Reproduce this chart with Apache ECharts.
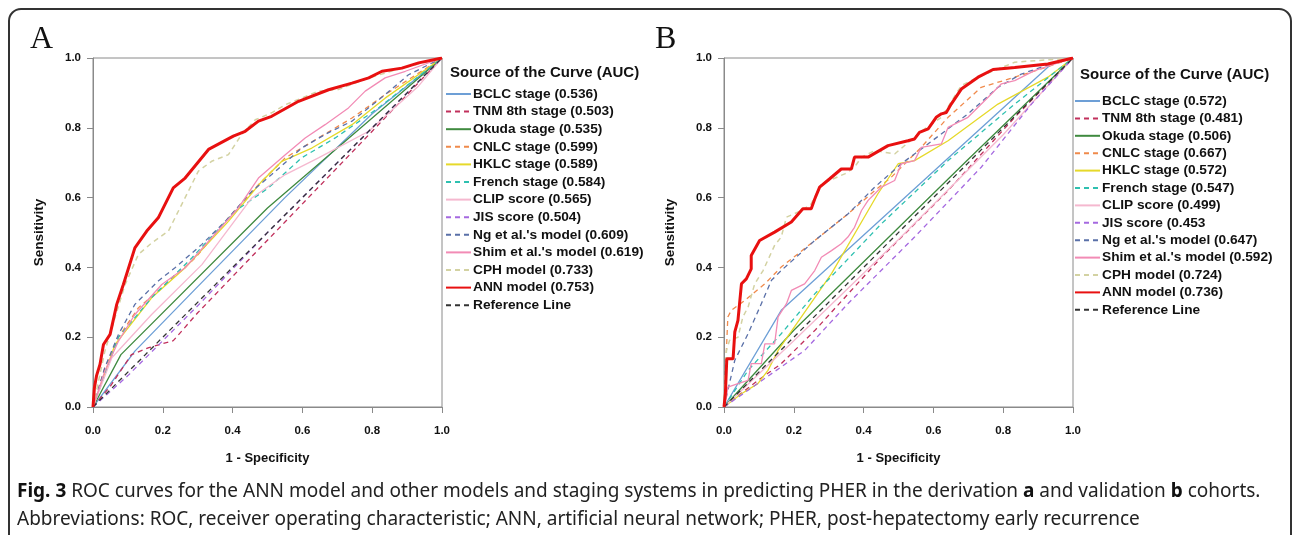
<!DOCTYPE html>
<html><head><meta charset="utf-8">
<script src="https://cdn.jsdelivr.net/npm/echarts@6/dist/echarts.min.js"></script>
<style>html,body{margin:0;padding:0;background:#fff;}#c{width:1292px;height:535px;}</style>
</head><body><div id="c"></div>
<script>
// ---------- legend labels ----------
const legendA = ["BCLC stage (0.536)","TNM 8th stage (0.503)","Okuda stage (0.535)","CNLC stage (0.599)","HKLC stage (0.589)","French stage (0.584)","CLIP score (0.565)","JIS score (0.504)","Ng et al.'s model (0.609)","Shim et al.'s model (0.619)","CPH model (0.733)","ANN model (0.753)","Reference Line"];
const legendB = ["BCLC stage (0.572)","TNM 8th stage (0.481)","Okuda stage (0.506)","CNLC stage (0.667)","HKLC stage (0.572)","French stage (0.547)","CLIP score (0.499)","JIS score (0.453","Ng et al.'s model (0.647)","Shim et al.'s model (0.592)","CPH model (0.724)","ANN model (0.736)","Reference Line"];
const axisTicks = [0, 0.2, 0.4, 0.6, 0.8, 1.0];

// ---------- Panel A curves [1-specificity, sensitivity] ----------
const A_BCLC = [[0,0],[0.12,0.16],[0.3,0.345],[0.55,0.6],[0.8,0.84],[1,1]];
const A_TNM = [[0,0],[0.05,0.06],[0.11,0.15],[0.16,0.17],[0.23,0.19],[0.3,0.27],[0.55,0.53],[0.8,0.79],[1,1]];
const A_Okuda = [[0,0],[0.08,0.15],[0.5,0.57],[1,1]];
const A_CNLC = [[0,0],[0.034,0.113],[0.073,0.2],[0.13,0.284],[0.207,0.351],[0.293,0.427],[0.388,0.542],[0.474,0.637],[0.551,0.714],[0.646,0.771],[0.742,0.828],[0.837,0.895],[1,1]];
const A_HKLC = [[0,0],[0.063,0.179],[0.168,0.313],[0.264,0.399],[0.388,0.532],[0.484,0.647],[0.541,0.704],[0.627,0.742],[0.742,0.809],[0.837,0.885],[1,1]];
const A_French = [[0,0],[0.073,0.2],[0.168,0.313],[0.283,0.427],[0.407,0.561],[0.503,0.628],[0.598,0.714],[0.694,0.771],[0.818,0.857],[1,1]];
const A_CLIP = [[0,0],[0.054,0.141],[0.168,0.265],[0.312,0.408],[0.455,0.599],[0.551,0.666],[0.646,0.714],[0.79,0.79],[0.933,0.92],[1,1]];
const A_JIS = [[0,0],[0.1,0.09],[0.3,0.29],[0.5,0.5],[0.8,0.8],[1,1]];
const A_Ng = [[0,0],[0.034,0.113],[0.073,0.208],[0.12,0.294],[0.187,0.361],[0.235,0.399],[0.312,0.466],[0.379,0.532],[0.455,0.618],[0.512,0.666],[0.598,0.742],[0.665,0.781],[0.742,0.819],[0.837,0.895],[0.904,0.952],[1,1]];
const A_Shim = [[0,0],[0.034,0.103],[0.073,0.189],[0.12,0.265],[0.197,0.351],[0.264,0.399],[0.34,0.485],[0.417,0.571],[0.474,0.656],[0.551,0.723],[0.608,0.771],[0.665,0.809],[0.732,0.857],[0.78,0.905],[0.837,0.943],[0.895,0.962],[1,1]];
const A_CPH = [[0,0],[0.015,0.07],[0.034,0.16],[0.063,0.256],[0.092,0.351],[0.13,0.437],[0.168,0.47],[0.216,0.504],[0.254,0.58],[0.302,0.676],[0.34,0.704],[0.388,0.723],[0.426,0.781],[0.465,0.823],[0.512,0.843],[0.551,0.866],[0.646,0.905],[0.704,0.91],[0.79,0.943],[0.885,0.971],[1,1]];
const A_ANN = [[0,0],[0.004,0.055],[0.01,0.089],[0.02,0.122],[0.03,0.179],[0.049,0.208],[0.068,0.294],[0.087,0.351],[0.12,0.456],[0.154,0.504],[0.187,0.542],[0.23,0.628],[0.264,0.656],[0.331,0.738],[0.402,0.776],[0.436,0.79],[0.474,0.819],[0.512,0.833],[0.589,0.876],[0.675,0.909],[0.742,0.928],[0.79,0.943],[0.828,0.962],[0.885,0.971],[0.933,0.986],[1,1]];
const A_Ref = [[0,0],[1,1]];

// ---------- Panel B curves ----------
const B_BCLC = [[0,0],[0.164,0.277],[0.938,0.983],[1,1]];
const B_TNM = [[0,0],[0.05,0.04],[0.097,0.076],[0.164,0.124],[0.26,0.219],[0.451,0.429],[0.642,0.62],[0.833,0.83],[1,1]];
const B_Okuda = [[0,0],[0.2,0.22],[0.7,0.71],[1,1]];
const B_CNLC = [[0,0],[0.011,0.258],[0.021,0.277],[0.059,0.305],[0.117,0.353],[0.164,0.401],[0.26,0.477],[0.355,0.553],[0.432,0.62],[0.479,0.658],[0.565,0.744],[0.642,0.83],[0.737,0.916],[0.833,0.945],[0.928,0.975],[1,1]];
const B_HKLC = [[0,0],[0.05,0.038],[0.097,0.067],[0.126,0.105],[0.155,0.162],[0.308,0.382],[0.441,0.611],[0.499,0.697],[0.546,0.706],[0.642,0.763],[0.785,0.868],[0.928,0.945],[1,1]];
const B_French = [[0,0],[0.069,0.105],[0.164,0.21],[0.26,0.324],[0.451,0.525],[0.642,0.706],[0.833,0.868],[1,1]];
const B_CLIP = [[0,0],[0.2,0.19],[0.5,0.48],[0.8,0.78],[1,1]];
const B_JIS = [[0,0],[0.069,0.048],[0.164,0.115],[0.231,0.162],[0.355,0.296],[0.546,0.487],[0.737,0.687],[0.881,0.868],[1,1]];
const B_Ng = [[0,0],[0.031,0.134],[0.069,0.21],[0.107,0.296],[0.136,0.363],[0.164,0.391],[0.26,0.477],[0.355,0.553],[0.432,0.63],[0.508,0.697],[0.585,0.754],[0.699,0.84],[0.785,0.916],[0.852,0.954],[0.928,0.98],[1,1]];
const B_Shim = [[0,0],[0.007,0.029],[0.011,0.057],[0.04,0.067],[0.069,0.076],[0.078,0.124],[0.107,0.124],[0.117,0.181],[0.145,0.181],[0.155,0.258],[0.179,0.296],[0.193,0.334],[0.231,0.353],[0.26,0.391],[0.279,0.429],[0.308,0.448],[0.336,0.468],[0.355,0.487],[0.374,0.515],[0.394,0.563],[0.413,0.592],[0.432,0.611],[0.451,0.63],[0.489,0.649],[0.508,0.697],[0.546,0.706],[0.565,0.744],[0.623,0.754],[0.642,0.801],[0.699,0.83],[0.728,0.859],[0.766,0.897],[0.795,0.926],[0.833,0.935],[0.89,0.964],[1,1]];
const B_CPH = [[0,0],[0.007,0.162],[0.016,0.191],[0.04,0.2],[0.054,0.258],[0.069,0.286],[0.088,0.353],[0.112,0.391],[0.145,0.463],[0.164,0.487],[0.179,0.544],[0.222,0.563],[0.25,0.582],[0.279,0.639],[0.346,0.668],[0.374,0.687],[0.394,0.716],[0.432,0.735],[0.489,0.725],[0.546,0.773],[0.575,0.797],[0.623,0.83],[0.68,0.921],[0.728,0.945],[0.833,0.988],[1,1]];
const B_ANN = [[0,0],[0.004,0.038],[0.008,0.138],[0.026,0.138],[0.031,0.215],[0.04,0.248],[0.05,0.353],[0.064,0.367],[0.078,0.396],[0.078,0.434],[0.102,0.477],[0.145,0.501],[0.193,0.53],[0.226,0.568],[0.25,0.568],[0.26,0.596],[0.274,0.63],[0.303,0.654],[0.336,0.682],[0.365,0.682],[0.374,0.716],[0.413,0.716],[0.47,0.749],[0.527,0.763],[0.546,0.768],[0.56,0.787],[0.585,0.797],[0.608,0.83],[0.623,0.84],[0.637,0.844],[0.651,0.868],[0.68,0.911],[0.728,0.945],[0.771,0.967],[0.833,0.973],[0.928,0.983],[1,1]];
const B_Ref = [[0,0],[1,1]];

const curvesA = [A_BCLC,A_TNM,A_Okuda,A_CNLC,A_HKLC,A_French,A_CLIP,A_JIS,A_Ng,A_Shim,A_CPH,A_ANN,A_Ref];
const curvesB = [B_BCLC,B_TNM,B_Okuda,B_CNLC,B_HKLC,B_French,B_CLIP,B_JIS,B_Ng,B_Shim,B_CPH,B_ANN,B_Ref];

// ---------- styles ----------
const colors = ['#6d9fd6','#c1305c','#3f8a3f','#f08a4b','#e6d92a','#2ec0b0','#f5b8cf','#a569e0','#5a70a8','#f28bb5','#d3d2a2','#e81010','#333333'];
const dashed = [false,true,false,true,false,true,false,true,true,false,true,false,true];
const widths = [1.3,1.3,1.3,1.3,1.3,1.3,1.3,1.3,1.3,1.3,1.5,3,1.3];

const FONT = '"Liberation Sans", Arial, sans-serif';
const grids = [
  {left:93, top:58, width:349, height:349, show:true, borderColor:'#8a8a8a', borderWidth:1},
  {left:724, top:58, width:349, height:349, show:true, borderColor:'#8a8a8a', borderWidth:1}
];
function xAx(i){return {type:'value', gridIndex:i, min:0, max:1, interval:0.2,
  name:'1 - Specificity', nameLocation:'middle', nameGap:45,
  nameTextStyle:{fontFamily:FONT, fontWeight:'bold', fontSize:13, color:'#111'},
  axisLine:{show:true, lineStyle:{color:'#8a8a8a'}}, axisTick:{show:true, length:6, lineStyle:{color:'#8a8a8a'}},
  axisLabel:{fontFamily:FONT, fontWeight:'bold', fontSize:11.5, color:'#111', margin:18, formatter:v=>v.toFixed(1)},
  splitLine:{show:false}};}
function yAx(i){return {type:'value', gridIndex:i, min:0, max:1, interval:0.2,
  name:'Sensitivity', nameLocation:'middle', nameGap:47,
  nameTextStyle:{fontFamily:FONT, fontWeight:'bold', fontSize:13.5, color:'#111'},
  axisLine:{show:true, lineStyle:{color:'#8a8a8a'}}, axisTick:{show:true, length:6, lineStyle:{color:'#8a8a8a'}},
  axisLabel:{fontFamily:FONT, fontWeight:'bold', fontSize:11.5, color:'#111', margin:12, formatter:v=>v.toFixed(1)},
  splitLine:{show:false}};}

const series = [];
function addSeries(curves, names, gi){
  curves.forEach((d,k)=>{
    series.push({type:'line', name:names[k], xAxisIndex:gi, yAxisIndex:gi, data:d, symbol:'none', silent:true,
      z: k===11 ? 5 : 2, animation:false,
      lineStyle:{color:colors[k], width:widths[k], type: dashed[k]?[5,4]:'solid'}, itemStyle:{color:colors[k]}});
  });
}
addSeries(curvesA, legendA, 0);
addSeries(curvesB, legendB, 1);

function legend(names, left, top, gap){
  return {data:names, orient:'vertical', left:left, top:top, itemWidth:25, itemHeight:14, itemGap:gap,
    selectedMode:false, itemStyle:{opacity:0},
    textStyle:{fontFamily:FONT, fontWeight:'bold', fontSize:13.7, lineHeight:14, color:'#111', padding:[0,0,0,-3]}};
}

const option = {
  animation:false,
  grid:grids,
  xAxis:[xAx(0), xAx(1)],
  yAxis:[yAx(0), yAx(1)],
  legend:[legend(legendA, 440, 82, 3.6), legend(legendB, 1069, 89, 3.4)],
  series:series,
  graphic:[
    {type:'rect', shape:{x:9, y:9, width:1282, height:620, r:12}, style:{fill:'none', stroke:'#333', lineWidth:2}, silent:true},
    {type:'text', left:30, top:24, style:{text:'A', font:'32px "Liberation Serif", serif', fill:'#111'}},
    {type:'text', left:655, top:24, style:{text:'B', font:'32px "Liberation Serif", serif', fill:'#111'}},
    {type:'text', left:450, top:65, style:{text:'Source of the Curve (AUC)', font:'bold 15px "Liberation Sans", Arial, sans-serif', fill:'#111'}},
    {type:'text', left:1080, top:67, style:{text:'Source of the Curve (AUC)', font:'bold 15px "Liberation Sans", Arial, sans-serif', fill:'#111'}},
    {type:'text', left:17, top:478, style:{
      text:'{b|Fig. 3} ROC curves for the ANN model and other models and staging systems in predicting PHER in the derivation {b|a} and validation {b|b} cohorts.\nAbbreviations: ROC, receiver operating characteristic; ANN, artificial neural network; PHER, post-hepatectomy early recurrence',
      fontFamily:'"Noto Sans", sans-serif', fontSize:19, lineHeight:28, fill:'#222',
      rich:{b:{fontFamily:'"Noto Sans", sans-serif', fontSize:19, fontWeight:'bold', fill:'#111', lineHeight:28}}}}
  ]
};
const chart = echarts.init(document.getElementById('c'), null, {renderer:'canvas'});
chart.setOption(option);
</script></body></html>
